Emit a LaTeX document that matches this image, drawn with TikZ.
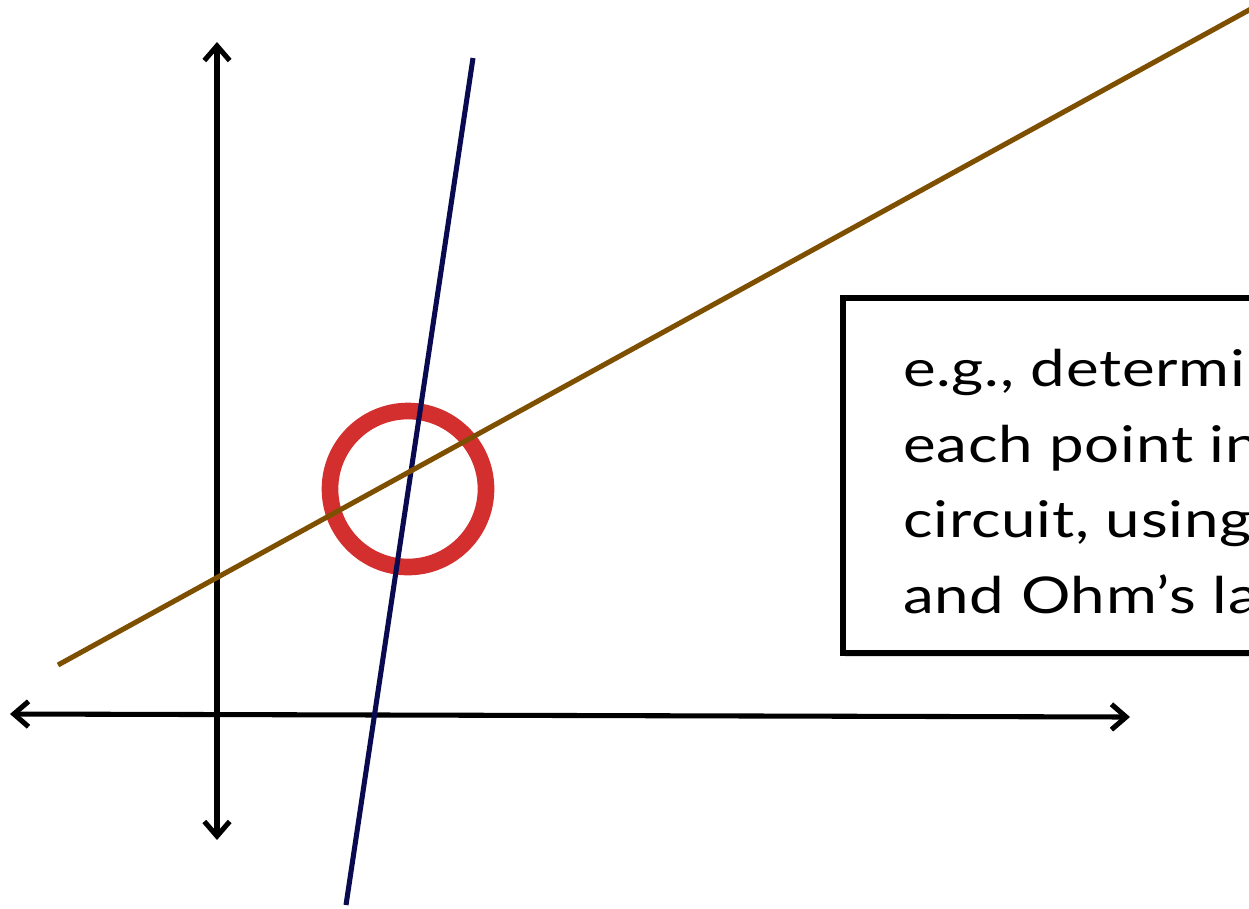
\documentclass[tikz,border=0pt]{standalone}
\usepackage{fontspec}
\setmainfont{Lato}[FakeStretch=1.22,LetterSpace=1.5]
\usetikzlibrary{arrows.meta,shadows}
\definecolor{navyline}{RGB}{10,10,80}
\definecolor{brownline}{RGB}{127,79,0}
\definecolor{ringred}{RGB}{211,47,47}
\tikzset{
  axis/.style={line width=3.8pt, line cap=round, {Straight Barb[length=11pt,width=19pt,line width=3.8pt]}-{Straight Barb[length=11pt,width=19pt,line width=3.8pt]}},
  graphline/.style={line width=3.8pt},
  ring/.style={draw=ringred, line width=12.5pt},
  notebox/.style={draw=black, line width=3.8pt, fill=white, drop shadow={shadow xshift=1.5pt, shadow yshift=-3pt, opacity=0.25}},
  notetext/.style={anchor=base west, inner sep=0pt, font=\fontsize{38pt}{56pt}\selectfont}
}
\begin{document}
\begin{tikzpicture}[x=0.75pt,y=-0.75pt]
\useasboundingbox (0,0) rectangle (1249,908);
\clip (0,0) rectangle (1249,908);
% coordinates
\coordinate (ytop) at (217,42);
\coordinate (ybot) at (217,840);
\coordinate (xleft) at (10,714);
\coordinate (xright) at (1130,717);
\coordinate (btop) at (473,58);
\coordinate (bbot) at (346,905);
\coordinate (ostart) at (58,665);
\coordinate (oend) at (1260,4);
% ring
\draw[ring] (408,489) circle[radius=78];
% axes
\draw[axis] (ybot) -- (ytop);
\draw[axis] (xleft) -- (xright);
% lines
\draw[graphline, draw=navyline] (btop) -- (bbot);
\draw[graphline, draw=brownline] (ostart) -- (oend);
% note box
\path[notebox] (843,298) rectangle (1270,653);
\node[notetext] (l1) at (903,386) {e.g., determi};
\node[notetext] (l2) at (903,462) {each point in};
\node[notetext] (l3) at (903,537) {circuit, using};
\node[notetext] (l4) at (903,613) {and Ohm’s la};
\end{tikzpicture}
\end{document}
